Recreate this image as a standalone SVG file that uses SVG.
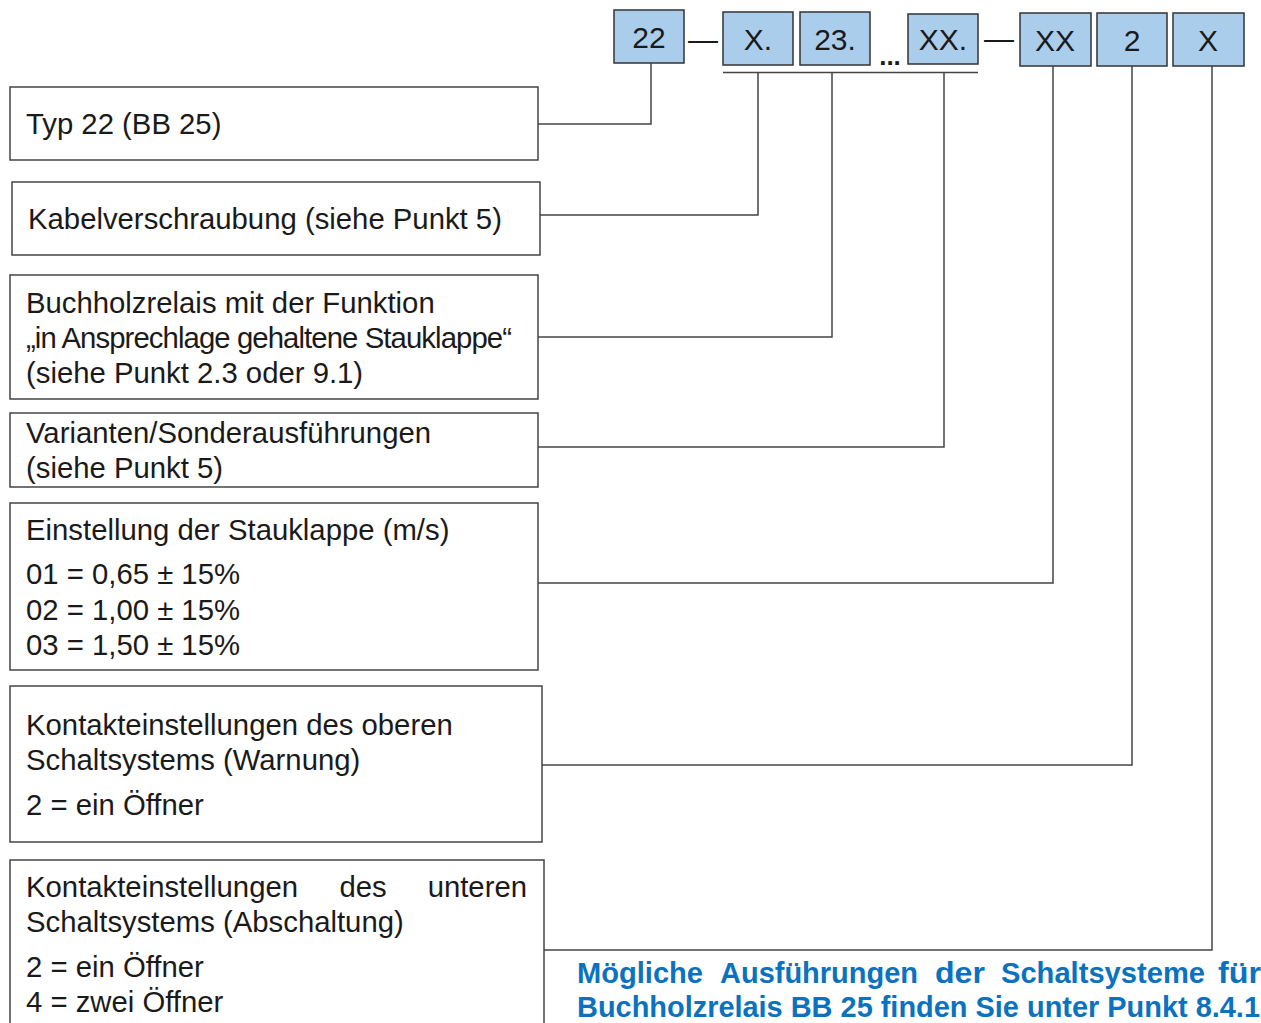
<svg xmlns="http://www.w3.org/2000/svg" width="1261" height="1023" viewBox="0 0 1261 1023">
<style>
.box{fill:#fff;stroke:#444;stroke-width:1.5}
.code{fill:#abcdec;stroke:#333;stroke-width:1.5}
.t{font-family:"Liberation Sans",Arial,sans-serif;font-size:29.3px;fill:#1a1a1a}
.c{font-family:"Liberation Sans",Arial,sans-serif;font-size:30px;fill:#1a1a1a;text-anchor:middle}
.ln{fill:none;stroke:#444;stroke-width:1.5}
.blue{font-family:"Liberation Sans",Arial,sans-serif;font-weight:bold;font-size:29px;fill:#0a72bf}
</style>
<rect width="1261" height="1023" fill="#fff"/>
<g id="code">
  <g id="c22"><rect class="code" x="614" y="10" width="70" height="53"/><text class="c" x="649" y="48">22</text></g>
  <text class="c" x="703" y="50">—</text>
  <g id="cX"><rect class="code" x="723" y="12" width="70" height="53"/><text class="c" x="758" y="50">X.</text></g>
  <g id="c23"><rect class="code" x="800" y="12" width="70" height="53"/><text class="c" x="835" y="50">23.</text></g>
  <text class="c" x="890" y="65" style="font-weight:bold;font-size:26px">...</text>
  <g id="cXX1"><rect class="code" x="908" y="14" width="70" height="50"/><text class="c" x="943" y="50">XX.</text></g>
  <text class="c" x="999" y="49">—</text>
  <g id="cXX2"><rect class="code" x="1020" y="13" width="71" height="53"/><text class="c" x="1055" y="51">XX</text></g>
  <g id="c2"><rect class="code" x="1097" y="13" width="70" height="53"/><text class="c" x="1132" y="51">2</text></g>
  <g id="cX2"><rect class="code" x="1173" y="13" width="71" height="53"/><text class="c" x="1208" y="51">X</text></g>
</g>
<g id="n1"><rect class="box" x="10" y="87" width="528" height="73"/><text class="t" x="26" y="134">Typ 22 (BB 25)</text></g>
<g id="n2"><rect class="box" x="12" y="182" width="528" height="73"/><text class="t" x="28" y="229">Kabelverschraubung (siehe Punkt 5)</text></g>
<g id="n3"><rect class="box" x="10" y="275" width="528" height="124"/>
  <text class="t" x="26" y="313">Buchholzrelais mit der Funktion</text>
  <text class="t" x="26" y="348" textLength="486" lengthAdjust="spacing">„in Ansprechlage gehaltene Stauklappe“</text>
  <text class="t" x="26" y="383">(siehe Punkt 2.3 oder 9.1)</text></g>
<g id="n4"><rect class="box" x="10" y="413" width="528" height="74"/>
  <text class="t" x="26" y="443">Varianten/Sonderausführungen</text>
  <text class="t" x="26" y="478">(siehe Punkt 5)</text></g>
<g id="n5"><rect class="box" x="10" y="503" width="528" height="167"/>
  <text class="t" x="26" y="540">Einstellung der Stauklappe (m/s)</text>
  <text class="t" x="26" y="584">01 = 0,65 ± 15%</text>
  <text class="t" x="26" y="620">02 = 1,00 ± 15%</text>
  <text class="t" x="26" y="655">03 = 1,50 ± 15%</text></g>
<g id="n6"><rect class="box" x="10" y="686" width="532" height="156"/>
  <text class="t" x="26" y="735">Kontakteinstellungen des oberen</text>
  <text class="t" x="26" y="770">Schaltsystems (Warnung)</text>
  <text class="t" x="26" y="815">2 = ein Öffner</text></g>
<g id="n7"><rect class="box" x="10" y="860" width="534" height="180"/>
  <text class="t" x="26" y="897">Kontakteinstellungen</text>
  <text class="t" x="363" y="897" text-anchor="middle">des</text>
  <text class="t" x="527" y="897" text-anchor="end">unteren</text>
  <text class="t" x="26" y="932">Schaltsystems (Abschaltung)</text>
  <text class="t" x="26" y="977">2 = ein Öffner</text>
  <text class="t" x="26" y="1012">4 = zwei Öffner</text></g>
<g id="note">
  <text class="blue" x="577" y="983" textLength="126" lengthAdjust="spacingAndGlyphs">Mögliche</text>
  <text class="blue" x="720" y="983" textLength="198" lengthAdjust="spacingAndGlyphs">Ausführungen</text>
  <text class="blue" x="935" y="983" textLength="50" lengthAdjust="spacingAndGlyphs">der</text>
  <text class="blue" x="1001" y="983" textLength="204" lengthAdjust="spacingAndGlyphs">Schaltsysteme</text>
  <text class="blue" x="1218" y="983" textLength="43" lengthAdjust="spacingAndGlyphs">für</text>
  <text class="blue" x="577" y="1017" textLength="683" lengthAdjust="spacingAndGlyphs">Buchholzrelais BB 25 finden Sie unter Punkt 8.4.1</text>
</g>
<g id="connectors">
  <line class="ln" x1="723" y1="72.5" x2="978" y2="72.5"/>
  <polyline class="ln" points="538,124 651,124 651,63"/>
  <polyline class="ln" points="540,215 758,215 758,73"/>
  <polyline class="ln" points="538,337 832,337 832,73"/>
  <polyline class="ln" points="538,447 944,447 944,73"/>
  <polyline class="ln" points="538,583 1053,583 1053,66"/>
  <polyline class="ln" points="542,765 1132,765 1132,66"/>
  <polyline class="ln" points="544,950 1212,950 1212,66"/>
</g>
</svg>
